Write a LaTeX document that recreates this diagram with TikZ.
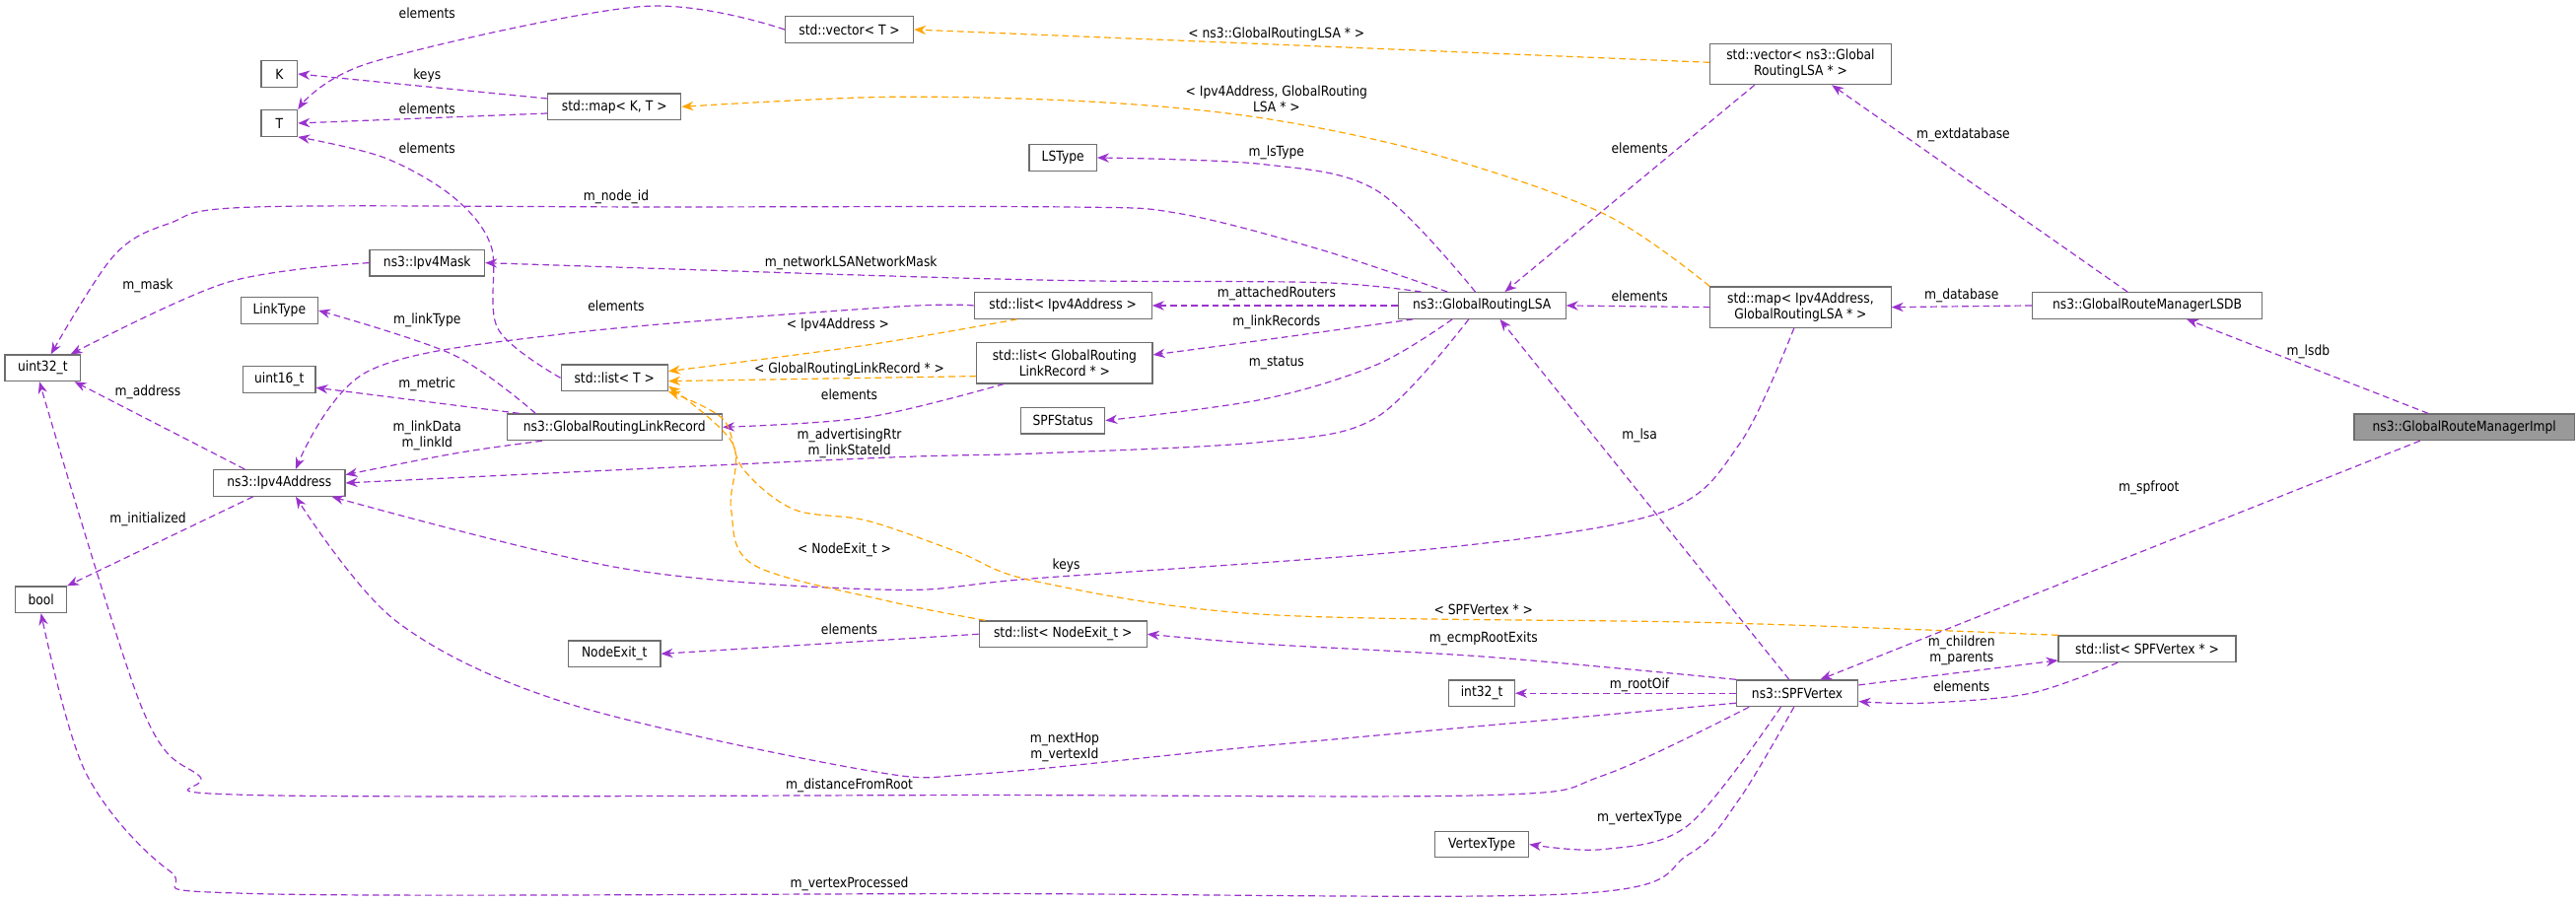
\documentclass[tikz,border=0pt]{standalone}
\usepackage{fontspec}
\setmainfont{DejaVu Sans}[FakeStretch=0.88]
\usetikzlibrary{arrows.meta,calc}
\definecolor{purp}{RGB}{154,50,205}
\definecolor{orng}{RGB}{255,165,0}
\definecolor{bord}{RGB}{110,110,110}
\newcommand\fnt{\fontsize{10.5}{12}\selectfont}
\begin{document}
\begin{tikzpicture}[x=1.25pt,y=-1.25pt,
 box/.style={draw=bord, line width=0.9pt, fill=white, inner sep=2pt, minimum height=20pt, align=center, font=\fnt},
 bw/.style={minimum width={#1*1.25pt}},
 two/.style={minimum height=31pt},
 lbl/.style={font=\fnt, align=center, inner sep=1pt},
 pe/.style={draw=purp, dash pattern=on 5pt off 3pt, line width=0.9pt, -{Stealth[length=9pt,width=7pt]}},
 oe/.style={pe, draw=orng},
 sm/.style={smooth, tension=0.55}]
\useasboundingbox (0,0) rectangle (1568,548);
% nodes
\node[box,bw=78] (vecT) at (517,18) {std::vector< T >};
\node[box,bw=22] (K) at (170,45) {K};
\node[box,bw=22] (T) at (170,75) {T};
\node[box,bw=81] (mapKT) at (374,65) {std::map< K, T >};
\node[box,bw=110,two] (vecLSA) at (1096,39) {std::vector< ns3::Global\\RoutingLSA * >};
\node[box,bw=41] (LSType) at (647,96) {LSType};
\node[box,bw=46] (u32) at (26,224) {uint32\_t};
\node[box,bw=70] (mask) at (260,160) {ns3::Ipv4Mask};
\node[box,bw=47] (linktype) at (170,189) {LinkType};
\node[box,bw=108] (lipv4) at (647,186) {std::list< Ipv4Address >};
\node[box,bw=102] (lsa) at (902,186) {ns3::GlobalRoutingLSA};
\node[box,bw=110,two] (mapip) at (1096,187) {std::map< Ipv4Address,\\GlobalRoutingLSA * >};
\node[box,bw=140] (lsdb) at (1307,186) {ns3::GlobalRouteManagerLSDB};
\node[box,bw=134,fill={rgb,255:red,153;green,153;blue,153}] (impl) at (1500,260) {ns3::GlobalRouteManagerImpl};
\node[box,bw=44] (u16) at (170,231) {uint16\_t};
\node[box,bw=65] (listT) at (374,230) {std::list< T >};
\node[box,bw=107,two] (lgrlr) at (648,221) {std::list< GlobalRouting\\LinkRecord * >};
\node[box,bw=131] (grlr) at (374,260) {ns3::GlobalRoutingLinkRecord};
\node[box,bw=51] (spfst) at (647,256) {SPFStatus};
\node[box,bw=80] (ip) at (170,294) {ns3::Ipv4Address};
\node[box,bw=31] (bool) at (25,365) {bool};
\node[box,bw=56] (nodeexit) at (374,398) {NodeExit\_t};
\node[box,bw=102] (lnodeexit) at (647,386) {std::list< NodeExit\_t >};
\node[box,bw=40] (i32) at (902,422) {int32\_t};
\node[box,bw=74] (spf) at (1094,422) {ns3::SPFVertex};
\node[box,bw=108] (lspf) at (1307,395) {std::list< SPFVertex * >};
\node[box,bw=57] (vtype) at (902,514) {VertexType};
% edges
\draw[pe] plot[sm] coordinates {(vecT.west) (390,4) (226,38) (T.north east)};
\node[lbl] at (260,8) {elements};
\draw[oe] ($(vecLSA.west)+(0,-1)$) .. controls (850,30) and (700,24) .. (vecT.east);
\node[lbl] at (777,21) {< ns3::GlobalRoutingLSA * >};
\draw[pe] ($(mapKT.west)+(0,-5)$) -- (K.east);
\node[lbl] at (260,46) {keys};
\draw[pe] ($(mapKT.west)+(0,4)$) -- (T.east);
\node[lbl] at (260,66) {elements};
\draw[pe] plot[sm] coordinates {(listT.west) (303,200) (299,150) (276,120) (234,96) (T.south east)};
\node[lbl] at (260,90) {elements};
\draw[oe] plot[sm] coordinates {(mapip.north west) (976,130) (873,94) (769,72) (666,62) (541,59) (mapKT.east)};
\node[lbl] at (777,60) {< Ipv4Address, GlobalRouting\\LSA * >};
\draw[pe] plot[sm] coordinates {($(lsa.north)+(-4,0)$) (838,116) (769,100) (LSType.east)};
\node[lbl] at (777,93) {m\_lsType};
\draw[pe] ($(vecLSA.south)+(-28,0)$) -- ($(lsa.north)+(14,0)$);
\node[lbl] at (998,90) {elements};
\draw[pe] ($(lsdb.north)+(-12,0)$) -- ($(vecLSA.south)+(19,0)$);
\node[lbl] at (1195,82) {m\_extdatabase};
\draw[pe] plot[sm] coordinates {($(lsa.north)+(-21,0)$) (804,152) (718,130) (649,126) (400,126) (155,126) (103,136) (69,156) ($(u32.north)+(5,0)$)};
\node[lbl] at (375,120) {m\_node\_id};
\draw[pe] plot[sm] coordinates {($(lsa.north)+(-37,0)$) (804,172) (666,171) (541,168) (mask.east)};
\node[lbl] at (518,160) {m\_networkLSANetworkMask};
\draw[pe] plot[sm] coordinates {(mask.west) (138,172) ($(u32.north)+(17,0)$)};
\node[lbl] at (90,174) {m\_mask};
\draw[pe] plot[sm] coordinates {($(grlr.north)+(-48,0)$) (276,216) (linktype.east)};
\node[lbl] at (260,195) {m\_linkType};
\draw[pe] plot[sm] coordinates {(lipv4.west) (541,187) (345,203) (224,226) ($(ip.north)+(10,0)$)};
\node[lbl] at (375,186) {elements};
\draw[pe] (lsa.west) -- (lipv4.east);
\node[lbl] at (777,179) {m\_attachedRouters};
\draw[pe] (mapip.west) -- (lsa.east);
\node[lbl] at (998,180) {elements};
\draw[pe] (lsdb.west) -- (mapip.east);
\node[lbl] at (1194,180) {m\_database};
\draw[oe] plot[sm] coordinates {($(lipv4.south)+(-28,0)$) (528,210) ($(listT.east)+(0,-4)$)};
\node[lbl] at (510,198) {< Ipv4Address >};
\draw[pe] plot[sm] coordinates {($(lsa.south)+(-42,0)$) (769,207) ($(lgrlr.east)+(0,-5)$)};
\node[lbl] at (777,196) {m\_linkRecords};
\draw[oe] ($(lgrlr.west)+(0,8)$) -- ($(listT.east)+(0,2)$);
\node[lbl] at (517,225) {< GlobalRoutingLinkRecord * >};
\draw[pe] plot[sm] coordinates {($(lsa.south)+(-18,0)$) (838,222) (769,243) (spfst.east)};
\node[lbl] at (777,221) {m\_status};
\draw[pe] ($(grlr.north)+(-58,0)$) -- ($(u16.east)+(0,5)$);
\node[lbl] at (260,234) {m\_metric};
\draw[pe] plot[sm] coordinates {($(lgrlr.south)+(-37,0)$) (528,254) (grlr.east)};
\node[lbl] at (517,240) {elements};
\draw[pe] ($(impl.north)+(-22,0)$) -- ($(lsdb.south)+(24,0)$);
\node[lbl] at (1405,214) {m\_lsdb};
\draw[pe] ($(grlr.south)+(-44,0)$) .. controls (280,275) .. ($(ip.east)+(0,-5)$);
\node[lbl] at (260,265) {m\_linkData\\m\_linkId};
\draw[pe] plot[sm] coordinates {($(lsa.south)+(-8,0)$) (838,254) (769,269) (631,276) (528,279) (ip.east)};
\node[lbl] at (517,270) {m\_advertisingRtr\\m\_linkStateId};
\draw[pe] ($(ip.north)+(-21,0)$) -- ($(u32.south east)+(-4,0)$);
\node[lbl] at (90,239) {m\_address};
\draw[pe] ($(ip.south)+(-16,0)$) -- (bool.north east);
\node[lbl] at (90,316) {m\_initialized};
\draw[pe] ($(spf.north)+(-5,0)$) -- ($(lsa.south)+(11,0)$);
\node[lbl] at (998,265) {m\_lsa};
\draw[pe] ($(impl.south)+(-27,0)$) -- ($(spf.north)+(14,0)$);
\node[lbl] at (1308,297) {m\_spfroot};
\draw[pe] plot[sm] coordinates {($(mapip.south)+(-4,0)$) (1059,270) (1011,312) (873,334) (631,352) (541,359) (379,346) ($(ip.south)+(32,0)$)};
\node[lbl] at (649,344) {keys};
\draw[oe] plot[sm] coordinates {(lspf.north west) (1042,379) (769,374) (631,354) (583,336) (528,317) (483,310) (452,285) (440,255) (listT.south east)};
\node[lbl] at (903,371) {< SPFVertex * >};
\draw[oe] plot[sm] coordinates {($(lnodeexit.north west)+(4,0)$) (541,366) (459,344) (445,310) (446,270) ($(listT.east)+(0,5)$)};
\node[lbl] at (514,335) {< NodeExit\_t >};
\draw[pe] (lnodeexit.west) -- (nodeexit.east);
\node[lbl] at (517,383) {elements};
\draw[pe] plot[sm] coordinates {(spf.north west) (907,400) (769,392) (lnodeexit.east)};
\node[lbl] at (903,389) {m\_ecmpRootExits};
\draw[pe] (spf.west) -- (i32.east);
\node[lbl] at (998,417) {m\_rootOif};
\draw[pe] plot[sm] coordinates {($(spf.west)+(0,6)$) (769,454) (597,471) (528,469) (345,428) (241,378) ($(ip.south)+(10,0)$)};
\node[lbl] at (648,455) {m\_nextHop\\m\_vertexId};
\draw[pe] plot[sm] coordinates {($(spf.south west)+(8,0)$) (976,472) (907,484) (600,484) (155,484) (121,472) (86,430) ($(u32.south)+(-2,0)$)};
\node[lbl] at (517,478) {m\_distanceFromRoot};
\draw[pe] plot[sm] coordinates {($(spf.south)+(-10,0)$) (1028,502) (976,517) (vtype.east)};
\node[lbl] at (998,498) {m\_vertexType};
\draw[pe] plot[sm] coordinates {($(spf.south)+(-2,0)$) (1059,486) (1028,520) (959,544) (600,544) (155,544) (103,530) (52,470) (bool.south)};
\node[lbl] at (517,538) {m\_vertexProcessed};
\draw[pe] ($(spf.east)+(0,-5)$) -- ($(lspf.west)+(0,7)$);
\node[lbl] at (1194,396) {m\_children\\m\_parents};
\draw[pe] plot[sm] coordinates {($(lspf.south)+(-18,0)$) (1236,422) (1171,428) ($(spf.east)+(0,5)$)};
\node[lbl] at (1194,418) {elements};
\end{tikzpicture}
\end{document}
